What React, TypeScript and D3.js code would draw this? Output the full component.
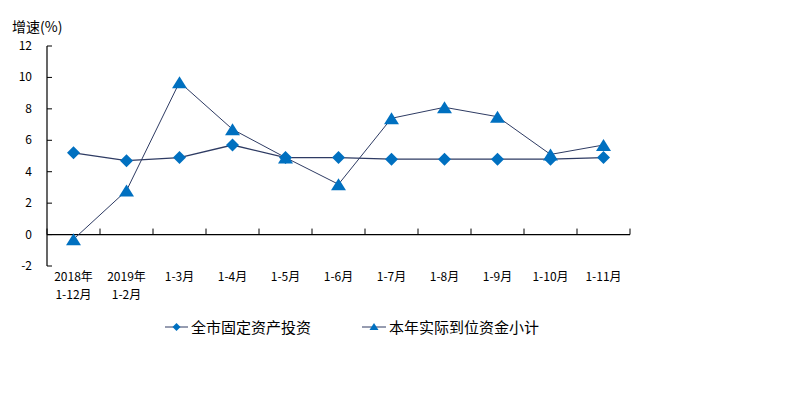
import React from "react";
import * as d3 from "d3";

const categories = ["2018年\n1-12月", "2019年\n1-2月", "1-3月", "1-4月", "1-5月", "1-6月", "1-7月", "1-8月", "1-9月", "1-10月", "1-11月"];
const investment = [5.2, 4.7, 4.9, 5.7, 4.9, 4.9, 4.8, 4.8, 4.8, 4.8, 4.9];
const funds = [-0.3, 2.8, 9.7, 6.7, 4.9, 3.2, 7.4, 8.1, 7.5, 5.1, 5.7];
const yTicks = [-2, 0, 2, 4, 6, 8, 10, 12];
const seriesNames = ["全市固定资产投资", "本年实际到位资金小计"];

const W = 786, H = 395;
const FONT = "'Noto Sans CJK SC', 'Noto Sans', sans-serif";
const BLUE = "#0070C0";
const LINE = "#2E3B63";

const diamondPath = (r: number) => `M0,${-r}L${r},0L0,${r}L${-r},0Z`;
const triPath = (w: number, h: number) => `M0,${-h / 2}L${w / 2},${h / 2}L${-w / 2},${h / 2}Z`;

export default function App() {
  const x0 = 47, x1 = 630;
  const y = d3.scaleLinear().domain([-2, 12]).range([266, 46]);
  const xb = d3.scaleBand().domain(categories).range([x0, x1]).padding(0);
  const cx = (c: string) => (xb(c) as number) + xb.bandwidth() / 2;
  const line = d3.line<number>().x((_, i) => cx(categories[i])).y((d) => y(d));

  return (
    <svg width={W} height={H} style={{ position: "absolute", left: 0, top: 0, background: "#fff" }}>
      <rect x={0} y={0} width={W} height={H} fill="#fff" />
      <text x={12} y={32} fontFamily={FONT} fontSize={14} fill="#000">增速(%)</text>
      {/* y axis */}
      <line x1={x0} x2={x0} y1={y(12)} y2={y(-2)} stroke="#000" strokeWidth={1.2} />
      {yTicks.map((t) => (
        <g key={t}>
          <line x1={x0} x2={x0 + 5} y1={y(t)} y2={y(t)} stroke="#000" strokeWidth={1} />
          <text x={32} y={y(t) + 4} textAnchor="end" fontFamily={FONT} fontSize={12} fill="#000">{t}</text>
        </g>
      ))}
      {/* x axis at 0 */}
      <line x1={x0} x2={x1} y1={y(0)} y2={y(0)} stroke="#000" strokeWidth={1.2} />
      {d3.range(categories.length + 1).map((i) => {
        const xx = x0 + i * xb.bandwidth();
        return <line key={i} x1={xx} x2={xx} y1={y(0)} y2={y(0) - 6} stroke="#000" strokeWidth={1} />;
      })}
      {categories.map((c) => {
        const lines = c.split("\n");
        return (
          <text key={c} textAnchor="middle" fontFamily={FONT} fontSize={12} fill="#000">
            {lines.map((l, j) => (
              <tspan key={j} x={cx(c)} y={281 + j * 18}>{l}</tspan>
            ))}
          </text>
        );
      })}
      {/* series lines */}
      <path d={line(investment) || ""} fill="none" stroke={LINE} strokeWidth={1.3} />
      <path d={line(funds) || ""} fill="none" stroke={LINE} strokeWidth={1} />
      {investment.map((v, i) => (
        <path key={"d" + i} d={diamondPath(6.5)} transform={`translate(${cx(categories[i])},${y(v)})`} fill={BLUE} />
      ))}
      {funds.map((v, i) => (
        <path key={"t" + i} d={triPath(15, 12)} transform={`translate(${cx(categories[i])},${y(v)})`} fill={BLUE} />
      ))}
      {/* legend */}
      <g>
        <line x1={165} x2={188} y1={327} y2={327} stroke={LINE} strokeWidth={1} />
        <path d={diamondPath(4)} transform="translate(176.5,327)" fill={BLUE} />
        <text x={191} y={332.5} fontFamily={FONT} fontSize={15} fill="#000">{seriesNames[0]}</text>
        <line x1={362} x2={386} y1={327} y2={327} stroke={LINE} strokeWidth={1} />
        <path d={triPath(9, 7)} transform="translate(374,326.5)" fill={BLUE} />
        <text x={389} y={332.5} fontFamily={FONT} fontSize={15} fill="#000">{seriesNames[1]}</text>
      </g>
    </svg>
  );
}
